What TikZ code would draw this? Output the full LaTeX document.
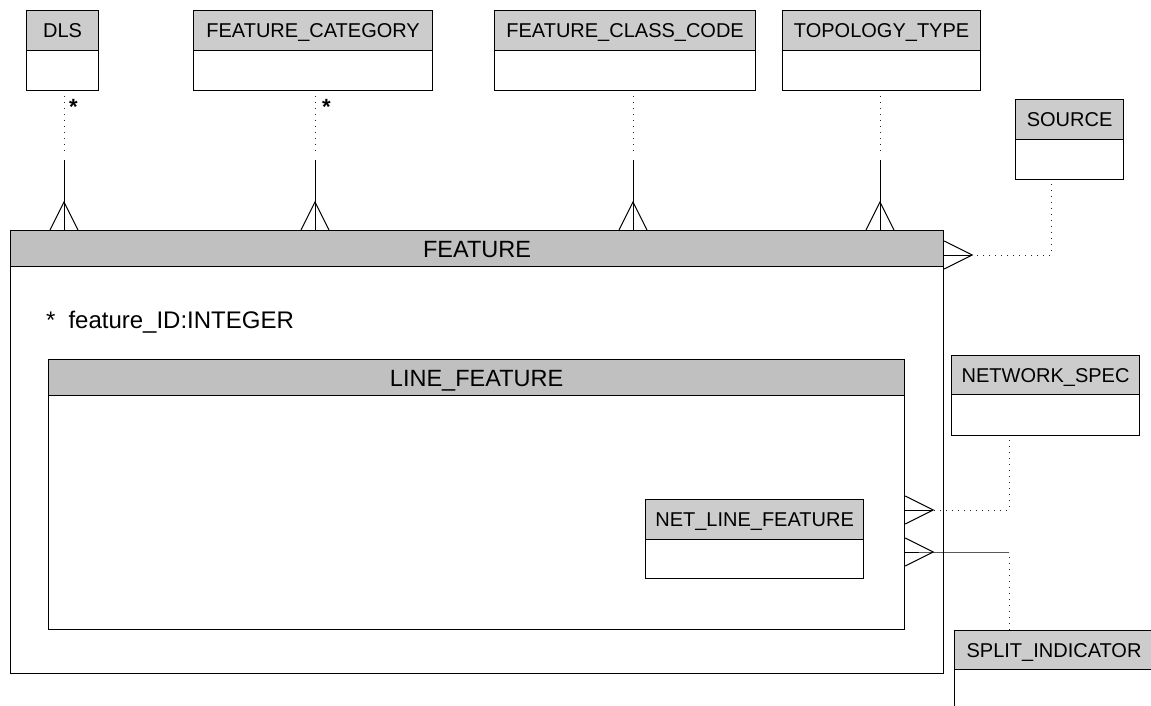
\documentclass[tikz,border=0pt]{standalone}
\usepackage{fontspec}
\setmainfont{Liberation Sans}
\usetikzlibrary{calc}
\definecolor{hdrsmall}{RGB}{204,204,204}
\definecolor{hdrbig}{RGB}{192,192,192}
\begin{document}
\begin{tikzpicture}[x=1pt,y=-1pt,
  hdr/.style={draw=black, line width=1.2pt, fill=hdrsmall, anchor=north west, inner sep=0pt,
    minimum height=40pt, text height=14.5pt, text depth=0pt, font=\fontsize{20}{21}\selectfont},
  bighdr/.style={hdr, fill=hdrbig, minimum height=36pt, text height=17pt, font=\fontsize{23.5}{24}\selectfont},
  bodyb/.style={draw=black, line width=1.2pt, fill=white, anchor=north west, inner sep=0pt, minimum height=40pt},
  conn/.style={draw=black, line width=1pt},
  dotline/.style={draw=black!85, line width=1pt, dash pattern=on 1pt off 5pt},
  starlbl/.style={anchor=base west, inner sep=0pt, font=\bfseries\fontsize{22}{23}\selectfont},
  crowup/.pic={\draw[conn] (-14,0) -- (0,-28) -- (14,0);},
  crowright/.pic={\draw[conn] (0,-14) -- (28,0) -- (0,14);}
]
\useasboundingbox (0,0) rectangle (1151,706);

% top entities
\node[bodyb, minimum width=72pt] (dls) at (26,50) {};
\node[hdr, minimum width=72pt] (dlsH) at (26,10) {DLS};
\node[bodyb, minimum width=239pt] (fc) at (193,50) {};
\node[hdr, minimum width=239pt] (fcH) at (193,10) {FEATURE\_CATEGORY};
\node[bodyb, minimum width=261pt] (fcc) at (494,50) {};
\node[hdr, minimum width=261pt] (fccH) at (494,10) {FEATURE\_CLASS\_CODE};
\node[bodyb, minimum width=198pt] (tt) at (782,50) {};
\node[hdr, minimum width=198pt] (ttH) at (782,10) {TOPOLOGY\_TYPE};
\node[bodyb, minimum width=108pt] (src) at (1015,139) {};
\node[hdr, minimum width=108pt] (srcH) at (1015,99) {SOURCE};

% FEATURE
\node[bodyb, minimum width=933pt, minimum height=443pt] (feat) at (10,230) {};
\node[bighdr, minimum width=933pt] (featH) at (10,230) {FEATURE};
\node[anchor=base west, inner sep=0pt, font=\fontsize{24}{25}\selectfont] (attr) at (46,328) {*\hspace{13pt}feature\_ID:INTEGER};

% LINE_FEATURE
\node[bodyb, minimum width=856pt, minimum height=270pt] (lf) at (48,359) {};
\node[bighdr, minimum width=856pt] (lfH) at (48,359) {LINE\_FEATURE};

% NET_LINE_FEATURE
\node[bodyb, minimum width=218pt, minimum height=39pt] (nlf) at (645,539) {};
\node[hdr, minimum width=218pt] (nlfH) at (645,499) {NET\_LINE\_FEATURE};

% right entities
\node[bodyb, minimum width=188pt, minimum height=41pt] (ns) at (951,394) {};
\node[hdr, minimum width=188pt, minimum height=39pt] (nsH) at (951,355) {NETWORK\_SPEC};
\node[bodyb, minimum width=204pt, minimum height=80pt] (sp) at (954,669) {};
\node[hdr, minimum width=204pt, minimum height=39pt, text width=180pt, align=left] (spH) at (954,630) {SPLIT\_INDICATOR};

% top connectors
\coordinate (k1) at (64,155);
\coordinate (k2) at (315,155);
\coordinate (k3) at (633,155);
\coordinate (k4) at (880,155);
\draw[dotline] (dls.south -| k1) ++(0,5) -- (k1);
\draw[conn] (k1) ++(0,5) -- (k1 |- feat.north);
\pic at (k1 |- feat.north) {crowup};
\draw[dotline] (fc.south -| k2) ++(0,5) -- (k2);
\draw[conn] (k2) ++(0,5) -- (k2 |- feat.north);
\pic at (k2 |- feat.north) {crowup};
\draw[dotline] (fcc.south -| k3) ++(0,5) -- (k3);
\draw[conn] (k3) ++(0,5) -- (k3 |- feat.north);
\pic at (k3 |- feat.north) {crowup};
\draw[dotline] (tt.south -| k4) ++(0,5) -- (k4);
\draw[conn] (k4) ++(0,5) -- (k4 |- feat.north);
\pic at (k4 |- feat.north) {crowup};
\node[starlbl] (st1) at (69,115) {*};
\node[starlbl] (st2) at (322,115) {*};

% SOURCE
\coordinate (s1) at (1051,255);
\coordinate (s2) at (971,255);
\draw[dotline] (src.south -| s1) ++(0,4) -- (s1) -- (s2);
\draw[conn] (s2) -- (s2 -| feat.east);
\pic at (s2 -| feat.east) {crowright};

% NETWORK_SPEC
\coordinate (n1) at (1009,510);
\coordinate (n2) at (932,510);
\draw[dotline] (ns.south -| n1) ++(0,4) -- (n1) -- (n2);
\draw[conn] (n2) -- (n2 -| lf.east);
\pic at (n2 -| lf.east) {crowright};

% SPLIT_INDICATOR
\coordinate (p1) at (1009,552);
\coordinate (p2) at (932,552);
\draw[dotline] (spH.north -| p1) -- (p1);
\draw[conn] (p1) -- (p2) -- (p2 -| lf.east);
\pic at (p2 -| lf.east) {crowright};
\end{tikzpicture}
\end{document}
